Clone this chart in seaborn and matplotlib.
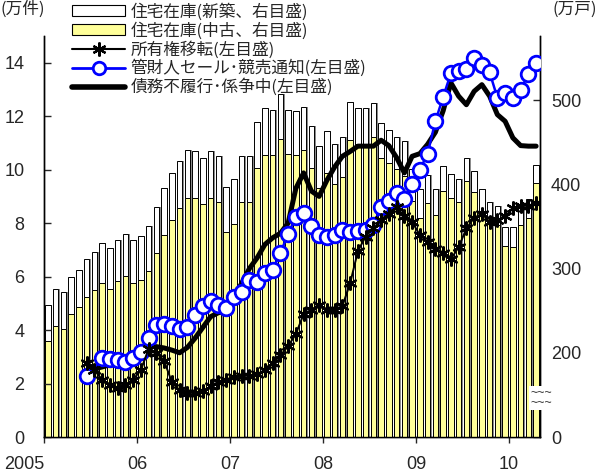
import numpy as np
import pandas as pd
import matplotlib
matplotlib.use("Agg")
import matplotlib.pyplot as plt
from matplotlib.patches import Patch
from matplotlib.lines import Line2D
from matplotlib.transforms import ScaledTranslation
import seaborn as sns

# Monthly series, Jan 2005 - Apr 2010
months = pd.period_range("2005-01", "2010-04", freq="M")
year_labels = ["2005", "06", "07", "08", "09", "10"]

# Housing inventory, 万戸 (right axis)
stock_used = [213.5, 231.3, 228.2, 246.0, 253.9, 266.3, 274.2, 282.5, 275.8, 285.3, 291.3, 283.0,
              286.5, 297.2, 318.2, 339.6, 357.5, 371.8, 384.1, 383.3, 377.0, 384.1, 379.4, 343.6,
              352.4, 378.6, 378.9, 419.8, 435.3, 434.9, 453.6, 436.1, 434.5, 440.9, 419.8, 396.1,
              413.1, 400.0, 409.1, 452.8, 447.3, 447.3, 455.6, 431.0, 425.0, 417.9, 410.0, 380.0,
              360.0, 378.2, 363.1, 392.0, 383.3, 379.4, 404.4, 390.8, 368.0, 360.0, 352.0, 326.6,
              325.8, 351.2, 360.3, 402.0]
stock_new = [43.6, 44.5, 44.0, 44.1, 44.9, 45.2, 45.6, 47.6, 48.8, 48.8, 49.2, 51.1,
             52.0, 53.2, 54.8, 56.4, 56.0, 56.0, 56.8, 56.0, 54.3, 55.2, 53.6, 53.2,
             53.6, 54.4, 54.1, 54.4, 54.8, 53.6, 53.1, 52.4, 52.8, 51.2, 49.6, 48.8,
             49.6, 47.3, 47.2, 45.2, 43.2, 42.8, 40.8, 41.3, 39.3, 37.7, 41.2, 38.0,
             34.0, 32.5, 30.9, 29.4, 29.0, 27.3, 26.9, 25.5, 26.0, 19.0, 22.0, 23.0,
             23.4, 23.0, 22.0, 21.0]

nan = np.nan
# 万件 (left axis)
transfers = [nan, nan, nan, nan, nan, 2.75, 2.5, 2.15, 1.95, 1.85, 1.95, 2.15,
             2.5, 3.3, 3.15, 2.85, 2.05, 1.75, 1.65, 1.65, 1.72, 1.9, 2.05, 2.15,
             2.25, 2.28, 2.3, 2.35, 2.5, 2.75, 3.05, 3.4, 3.85, 4.6, 4.75, 4.95,
             4.75, 4.75, 4.9, 5.75, 6.95, 7.5, 7.8, 8.1, 8.35, 8.6, 8.25, 8.05,
             7.55, 7.3, 7.05, 6.9, 6.65, 7.1, 7.8, 8.2, 8.35, 8.05, 8.1, 8.25,
             8.55, 8.65, 8.65, 8.75]
trustee_sale = [nan, nan, nan, nan, nan, 2.28, nan, 2.95, 2.91, 2.88, 2.80, 2.95,
                3.19, 3.70, 4.19, 4.23, 4.16, 4.04, 4.13, 4.57, 4.91, 5.07, 4.94, 4.82,
                5.25, 5.44, 5.88, 5.79, 6.13, 6.25, 6.88, 7.60, 8.22, 8.38, 7.88, 7.57,
                7.48, 7.57, 7.75, 7.65, 7.69, 7.75, 7.94, 8.60, 8.81, 9.13, 8.92, 9.46,
                10.0, 10.6, 11.81, 12.72, 13.6, 13.7, 13.77, 14.18, 13.9, 13.64, 12.69, 12.88,
                12.69, 12.98, 13.58, 14.0]
default_pending = [nan, nan, nan, nan, nan, 2.45, 2.55, 2.62, 2.7, 2.78, 2.88, 3.05,
                   3.25, 3.38, 3.38, 3.33, 3.25, 3.15, 3.35, 3.7, 4.1, 4.5, 4.65, 4.69,
                   5.2, 5.75, 6.3, 6.7, 7.2, 7.45, 7.62, 8.0, 9.3, 9.88, 9.2, 9.0,
                   9.6, 10.1, 10.5, 10.68, 10.88, 10.88, 10.88, 11.1, 10.9, 10.45, 9.88, 10.5,
                   10.6, 10.95, 11.4, 12.2, 13.25, 12.75, 12.43, 12.93, 13.18, 12.75, 12.06, 11.81,
                   11.19, 10.9, 10.88, 10.88]

labels = ["住宅在庫(新築、右目盛)", "住宅在庫(中古、右目盛)", "所有権移転(左目盛)",
          "管財人セール･競売通知(左目盛)", "債務不履行･係争中(左目盛)"]

df = pd.DataFrame({
    "idx": np.arange(len(months)),
    "used": stock_used,
    "new": stock_new,
    "transfers": transfers,
    "trustee": trustee_sale,
    "default": default_pending,
})
df["total"] = df["used"] + df["new"]

sns.set_style("ticks")
plt.rcParams["font.family"] = ["Liberation Sans", "Noto Sans CJK JP"]
plt.rcParams["axes.linewidth"] = 1.0

YELLOW = "#FFFF99"
BAR_W = 0.7

fig = plt.figure(figsize=(5.97, 4.75), dpi=100)
ax = fig.add_axes([44 / 597, 38 / 475, 496 / 597, 401 / 475])

# bar shadow, then stacked bars (total in white, used stock in yellow)
ax.bar(df["idx"] + 0.2, df["total"], width=BAR_W, color="#8c8c8c", linewidth=0, zorder=1)
sns.barplot(data=df, x="idx", y="total", ax=ax, color="white", saturation=1,
            width=BAR_W, edgecolor="black", linewidth=0.7, errorbar=None, zorder=2)
sns.barplot(data=df, x="idx", y="used", ax=ax, color=YELLOW, saturation=1,
            width=BAR_W, edgecolor="black", linewidth=0.7, errorbar=None, zorder=3)

ax.set_xlim(-0.5, len(months) - 0.5)
ax.set_ylim(100, 576)
ax.set_xlabel("")
ax.set_ylabel("")
ax.set_xticks([-0.5, 11.5, 23.5, 35.5, 47.5, 59.5])
ax.set_xticklabels(year_labels)
ax.set_yticks([100, 200, 300, 400, 500])
ax.set_yticklabels(["0", "200", "300", "400", "500"])

ax2 = ax.twinx()
sns.lineplot(data=df, x="idx", y="default", ax=ax2, color="black", linewidth=3.6,
             errorbar=None, zorder=3)
sns.lineplot(data=df, x="idx", y="trustee", ax=ax2, color="#0000FF", linewidth=1.8,
             marker="o", markersize=10.5, markerfacecolor="white", markeredgecolor="#0000FF",
             markeredgewidth=2.0, errorbar=None, zorder=4)
sns.lineplot(data=df, x="idx", y="transfers", ax=ax2, color="black", linewidth=1.4,
             marker=(6, 2, 0), markersize=10, markeredgewidth=1.6, markeredgecolor="black",
             errorbar=None, zorder=5)
ax2.set_ylim(0, 15)
ax2.set_yticks(np.arange(0, 15, 2))
ax2.set_xlabel("")
ax2.set_ylabel("")

# inventory scale on the right, counts on the left
ax.yaxis.set_ticks_position("right")
ax.yaxis.set_label_position("right")
ax2.yaxis.set_ticks_position("left")
ax2.yaxis.set_label_position("left")

for a in (ax, ax2):
    a.spines["top"].set_visible(False)
    for s in ("left", "right", "bottom"):
        a.spines[s].set_color("black")
        a.spines[s].set_linewidth(1.0)

ax.tick_params(axis="x", direction="out", length=4, width=1, pad=10, labelsize=13)
ax.tick_params(axis="y", direction="in", length=5, width=1, pad=8, labelsize=13)
ax2.tick_params(axis="y", direction="in", length=5, width=1, pad=14, labelsize=13)

# the first year label sits left of its tick
first = ax.get_xticklabels()[0]
first.set_transform(first.get_transform() + ScaledTranslation(-0.2, 0, fig.dpi_scale_trans))

# axis break mark on the right scale
fig.text(541 / 597, 1 - 398 / 475, "~~~\n~~~", ha="center", va="center", fontsize=9,
         linespacing=0.8, color="#333333",
         bbox=dict(facecolor="white", edgecolor="none", pad=1.0))

# units
cjk = ["Noto Sans CJK JP", "DejaVu Sans"]
fig.text(0.0, 1 - 9 / 475, "(万件)", ha="left", va="center", fontsize=12, family=cjk)
fig.text(1.0, 1 - 9 / 475, "(万戸)", ha="right", va="center", fontsize=12, family=cjk)

handles = [
    Patch(facecolor="white", edgecolor="black", linewidth=0.8),
    Patch(facecolor=YELLOW, edgecolor="black", linewidth=0.8),
    Line2D([], [], color="black", linewidth=1.5, marker=(6, 2, 0), markersize=10,
           markeredgewidth=1.6),
    Line2D([], [], color="#0000FF", linewidth=2, marker="o", markersize=9,
           markerfacecolor="white", markeredgecolor="#0000FF", markeredgewidth=2),
    Line2D([], [], color="black", linewidth=4),
]
fig.legend(handles, labels, loc="upper left", bbox_to_anchor=(72 / 597, 1 - 3 / 475),
           frameon=False, prop={"family": cjk, "size": 12}, handlelength=3.2,
           handleheight=0.6, handletextpad=0.3, labelspacing=0.08, borderpad=0,
           borderaxespad=0)

fig.savefig("out.png", dpi=100)
